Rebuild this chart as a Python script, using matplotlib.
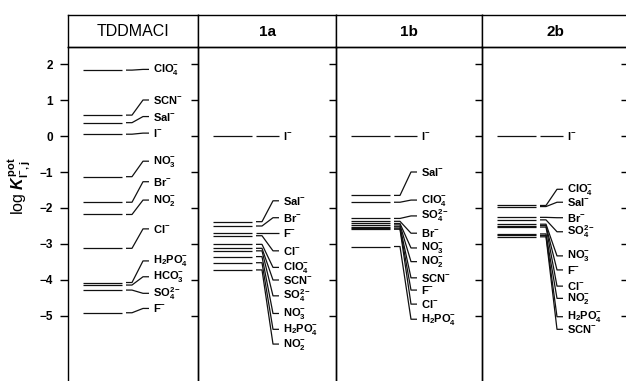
import matplotlib
matplotlib.use('Agg')
import matplotlib.pyplot as plt

plt.rcParams['font.family'] = ['Liberation Sans', 'DejaVu Sans']
plt.rcParams['mathtext.fontset'] = 'custom'
plt.rcParams['mathtext.rm'] = 'Liberation Sans:bold'
plt.rcParams['mathtext.bf'] = 'Liberation Sans:bold'
plt.rcParams['mathtext.it'] = 'Liberation Sans:italic:bold'
plt.rcParams['mathtext.default'] = 'rm'

# ---------------- data ----------------
panel_titles = ['TDDMACI', '1a', '1b', '2b']

ion_tex = {
    'ClO4': r'ClO$_4^{-}$', 'SCN': r'SCN$^{-}$', 'Sal': r'Sal$^{-}$', 'I': r'I$^{-}$',
    'NO3': r'NO$_3^{-}$', 'Br': r'Br$^{-}$', 'NO2': r'NO$_2^{-}$', 'Cl': r'Cl$^{-}$',
    'H2PO4': r'H$_2$PO$_4^{-}$', 'HCO3': r'HCO$_3^{-}$', 'SO4': r'SO$_4^{2-}$', 'F': r'F$^{-}$',
}

tddmaci_ions = ['ClO4', 'SCN', 'Sal', 'I', 'NO3', 'Br', 'NO2', 'Cl', 'H2PO4', 'HCO3', 'SO4', 'F']
tddmaci_levels = [1.83, 0.58, 0.37, 0.05, -1.13, -1.84, -2.18, -3.12, -4.07, -4.14, -4.28, -4.91]
tddmaci_label_y = [1.85, 1.00, 0.54, 0.08, -0.70, -1.27, -1.78, -2.58, -3.47, -3.91, -4.37, -4.79]

p1a_ions = ['I', 'Sal', 'Br', 'F', 'Cl', 'ClO4', 'SCN', 'SO4', 'NO3', 'H2PO4', 'NO2']
p1a_levels = [0.0, -2.38, -2.50, -2.70, -2.77, -3.01, -3.12, -3.19, -3.35, -3.52, -3.72]
p1a_label_y = [0.0, -1.80, -2.27, -2.70, -3.19, -3.65, -4.00, -4.44, -4.93, -5.37, -5.78]

p1b_ions = ['I', 'Sal', 'ClO4', 'SO4', 'Br', 'NO3', 'NO2', 'SCN', 'F', 'Cl', 'H2PO4']
p1b_levels = [0.0, -1.65, -1.84, -2.29, -2.37, -2.43, -2.47, -2.52, -2.56, -2.59, -3.07]
p1b_label_y = [0.0, -1.00, -1.78, -2.22, -2.70, -3.11, -3.49, -3.94, -4.28, -4.67, -5.09]

p2b_ions = ['I', 'ClO4', 'Sal', 'Br', 'SO4', 'NO3', 'F', 'Cl', 'NO2', 'H2PO4', 'SCN']
p2b_levels = [0.0, -1.93, -1.96, -2.26, -2.33, -2.45, -2.49, -2.53, -2.72, -2.76, -2.80]
p2b_label_y = [0.0, -1.48, -1.84, -2.27, -2.66, -3.33, -3.72, -4.17, -4.51, -5.02, -5.37]

yticks = [2, 1, 0, -1, -2, -3, -4, -5]

panels = [
    (tddmaci_ions, tddmaci_levels, tddmaci_label_y),
    (p1a_ions, p1a_levels, p1a_label_y),
    (p1b_ions, p1b_levels, p1b_label_y),
    (p2b_ions, p2b_levels, p2b_label_y),
]

# ---------------- layout ----------------
W, H = 626, 381
fig = plt.figure(figsize=(W / 100, H / 100), dpi=100)
edges = [68, 198, 336, 482, 628]
top_px, hdr_px = 15, 47
y_top = (136 - hdr_px) / 36.0
y_bot = (136 - H) / 36.0

# segment offsets (px from panel left)
L1, L2, R1, R2, C, HH, T = 15, 54, 58, 64, 75, 81, 85
lc = '#111111'
lw = 0.9

for i, (ions, levels, labys) in enumerate(panels):
    x0, x1 = edges[i], edges[i + 1]
    w = x1 - x0
    # header axes
    hax = fig.add_axes([x0 / W, 1 - hdr_px / H, w / W, (hdr_px - top_px) / H])
    hax.set_xlim(0, 1)
    hax.set_ylim(0, 1)
    hax.set_xticks([])
    hax.set_yticks([])
    for s in hax.spines.values():
        s.set_linewidth(1.0)
    hax.text(0.5, 0.47, panel_titles[i], ha='center', va='center',
             fontsize=11.5 if i == 0 else 11, fontweight='normal' if i == 0 else 'bold')

    # data axes
    ax = fig.add_axes([x0 / W, 0, w / W, 1 - hdr_px / H])
    ax.patch.set_visible(False)
    ax.set_xlim(0, w)
    ax.set_ylim(y_bot, y_top)
    ax.spines['bottom'].set_visible(False)
    for s in ['left', 'right', 'top']:
        ax.spines[s].set_linewidth(1.0)
    ax.set_xticks([])
    ax.set_yticks(yticks)
    if i == 0:
        ax.tick_params(axis='y', left=True, right=False, labelleft=True,
                       direction='out', length=6, width=1.0, pad=5)
        for lab in ax.get_yticklabels():
            lab.set_fontweight('bold')
            lab.set_fontsize(8.5)
        ax2 = ax.secondary_yaxis('right')
        ax2.set_yticks(yticks)
        ax2.tick_params(direction='in', length=5, width=1.0, labelright=False)
        ax2.spines['right'].set_visible(False)
    else:
        ax.tick_params(axis='y', left=False, labelleft=False, right=True,
                       direction='in', length=5, width=1.0)

    for ion, lev, ly in zip(ions, levels, labys):
        ax.plot([L1, L2], [lev, lev], color=lc, lw=lw, solid_capstyle='butt')
        if abs(lev - ly) < 1e-9:
            ax.plot([R1, HH], [lev, lev], color=lc, lw=lw, solid_capstyle='butt')
        else:
            ax.plot([R1, R2, C, HH], [lev, lev, ly, ly], color=lc, lw=lw,
                    solid_capstyle='butt')
        ax.text(T, ly, ion_tex[ion], fontsize=8, fontweight='bold',
                ha='left', va='center')

fig.text(20 / W, 1 - 186 / H, r'log $\mathit{K}^{\mathrm{pot}}_{\mathrm{I^{-},j}}$',
         rotation=90, ha='center', va='center', fontsize=11.5)

fig.savefig('out.png', dpi=100)
